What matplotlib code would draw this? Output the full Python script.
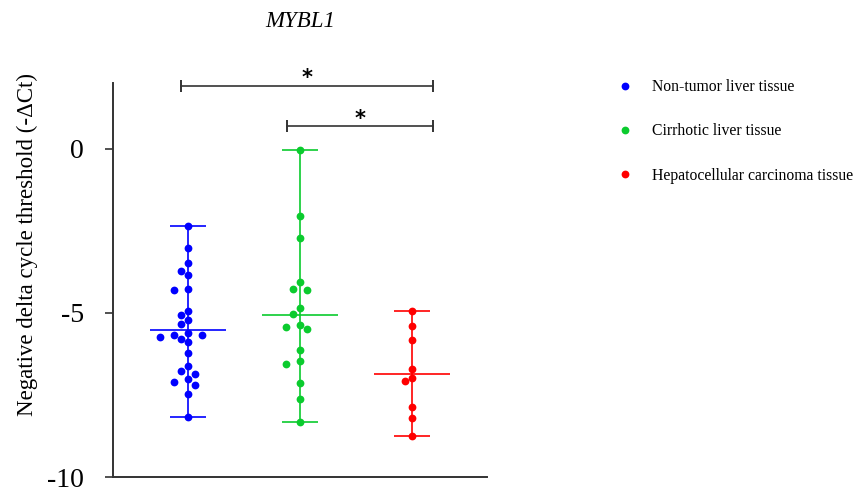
"""MYBL1 : -dCt par type de tissu, nuage de points + moyenne + étendue."""

import matplotlib
matplotlib.use("Agg")
import matplotlib.pyplot as plt
import numpy as np

plt.rcParams["font.family"] = ["Liberation Serif", "DejaVu Serif"]
plt.rcParams["axes.unicode_minus"] = False

GROUPS = ["Non-tumor liver tissue", "Cirrhotic liver tissue",
          "Hepatocellular carcinoma tissue"]
COLORS = ["#0000ff", "#0bcb2e", "#ff0000"]

non_tumor = [-2.35, -3.03, -3.49, -3.72, -3.84, -4.28, -4.32, -4.94, -5.06,
             -5.21, -5.34, -5.62, -5.66, -5.69, -5.75, -5.79, -5.90, -6.23,
             -6.62, -6.77, -6.87, -7.02, -7.11, -7.19, -7.46, -8.16]
cirrhotic = [-0.05, -2.06, -2.72, -4.06, -4.30, -4.27, -4.86, -5.04, -5.38,
             -5.44, -5.50, -6.13, -6.46, -6.56, -7.14, -7.63, -8.31]
hcc = [-4.94, -5.40, -5.82, -6.72, -6.97, -7.09, -7.88, -8.19, -8.75]

# comparaisons significatives : (x gauche, x droit, hauteur)
sig_pairs = [(-0.06, 2.19, 1.92), (0.88, 2.19, 0.68)]

XLIM = (-0.67, 2.67)
YLIM = (-10, 2)


def swarm_offsets(vals, px_x, px_y, diam=7.8, step=7.0):
    """Décalages horizontaux façon beeswarm (en unités de données)."""
    vals = np.asarray(vals)
    placed = []
    offs = np.zeros(len(vals))
    cands = [0.0]
    for j in range(1, 12):
        cands += [-j * step, j * step]
    for i in np.argsort(-vals):
        y = vals[i] * px_y
        for c in cands:
            if all((c - px) ** 2 + (y - py) ** 2 >= diam ** 2 for px, py in placed):
                break
        placed.append((c, y))
        offs[i] = c / px_x
    return offs


fig = plt.figure(figsize=(8.59, 4.88), dpi=100)
ax = fig.add_axes([0.1315, 0.0225, 0.4355, 0.8075])
ax.set_xlim(*XLIM)
ax.set_ylim(*YLIM)

W, H = fig.get_size_inches() * fig.dpi
px_x = 0.4355 * W / (XLIM[1] - XLIM[0])
px_y = 0.8075 * H / (YLIM[1] - YLIM[0])

for i, (vals, col, lab) in enumerate(zip([non_tumor, cirrhotic, hcc], COLORS, GROUPS)):
    vals = np.asarray(vals)
    xs = i + swarm_offsets(vals, px_x, px_y)
    ax.vlines(i, vals.min(), vals.max(), color=col, lw=1.2, zorder=2)
    ax.hlines([vals.min(), vals.max()], i - 0.165, i + 0.165, color=col, lw=1.2, zorder=2)
    ax.hlines(vals.mean(), i - 0.335, i + 0.335, color=col, lw=1.2, zorder=2)
    ax.plot(xs, vals, "o", ms=5.6, color=col, mec="none", label=lab, zorder=3)

for x1, x2, y in sig_pairs:
    ax.plot([x1, x2], [y, y], color="#333333", lw=1.2, marker="|", ms=8, mew=1.4,
            clip_on=False)
    ax.text((x1 + x2) / 2, y + 0.22, "*", ha="center", va="center", fontsize=15,
            fontweight="bold", family="DejaVu Sans", clip_on=False)

ax.set_xticks([])
ax.set_yticks([0, -5, -10])
ax.tick_params(axis="y", labelsize=20, length=6, width=1.2, color="#333333", pad=15)
ax.spines[["top", "right"]].set_visible(False)
for s in ("left", "bottom"):
    ax.spines[s].set_color("#333333")
    ax.spines[s].set_linewidth(1.4)
ax.set_ylabel("Negative delta cycle threshold (-ΔCt)", fontsize=16.5)
ax.yaxis.set_label_coords(-0.2, 0.589)
ax.set_title("MYBL1", fontsize=16.5, style="italic", pad=40)

fig.legend(loc="upper left", bbox_to_anchor=(0.702, 0.867), frameon=False,
           fontsize=11.3, labelspacing=1.8, handlelength=1.0, handletextpad=1.2,
           markerscale=1.0)

fig.savefig("out.png", dpi=100)
